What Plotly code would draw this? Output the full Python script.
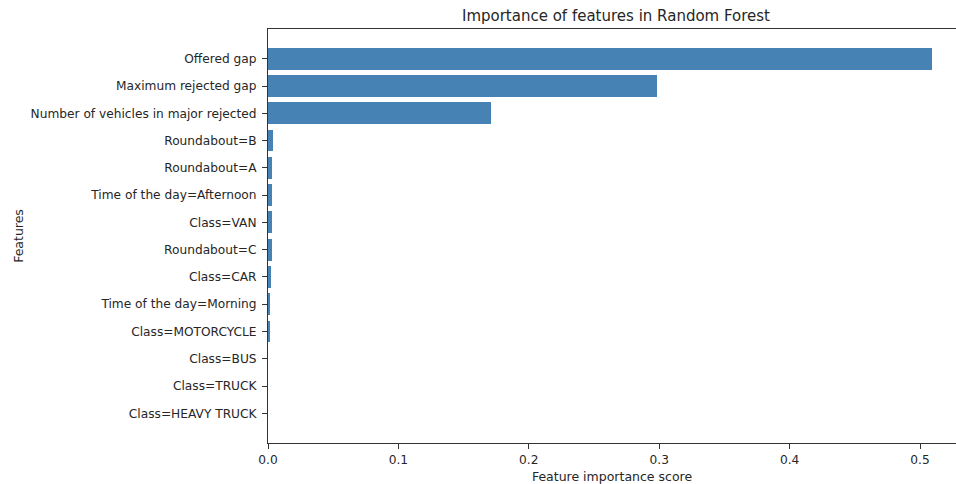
import plotly.graph_objects as go

# Feature names, listed top to bottom
features = [
    "Offered gap",
    "Maximum rejected gap",
    "Number of vehicles in major rejected",
    "Roundabout=B",
    "Roundabout=A",
    "Time of the day=Afternoon",
    "Class=VAN",
    "Roundabout=C",
    "Class=CAR",
    "Time of the day=Morning",
    "Class=MOTORCYCLE",
    "Class=BUS",
    "Class=TRUCK",
    "Class=HEAVY TRUCK",
]
importance = [0.509, 0.298, 0.171, 0.0042, 0.0030, 0.0029, 0.0028, 0.0027,
              0.0020, 0.0019, 0.0011, 0.0, 0.0, 0.0]

x_ticks = [0.0, 0.1, 0.2, 0.3, 0.4, 0.5]
x_tick_text = ["0.0", "0.1", "0.2", "0.3", "0.4", "0.5"]

FONT = "DejaVu Sans, Liberation Sans, sans-serif"
TXT = "#262626"

fig = go.Figure(
    go.Bar(
        x=importance,
        y=features,
        orientation="h",
        width=0.8,
        marker=dict(color="#4682B4", line=dict(width=0)),
    )
)

n = len(features)
fig.update_layout(
    width=956,
    height=484,
    margin=dict(l=268, r=0, t=29, b=41),
    paper_bgcolor="white",
    plot_bgcolor="white",
    showlegend=False,
    font=dict(family=FONT, size=12.2, color=TXT),
    title=dict(
        text="Importance of features in Random Forest",
        x=616 / 956,
        xanchor="center",
        y=1 - 16 / 484,
        yanchor="middle",
        font=dict(family=FONT, size=15, color=TXT),
    ),
    bargap=0,
)

fig.update_xaxes(
    range=[0, (956 - 268) / 1304],
    tickvals=x_ticks,
    ticktext=x_tick_text,
    ticks="outside",
    ticklen=5,
    tickwidth=1,
    tickcolor="#333333",
    showline=True,
    linecolor="#333333",
    linewidth=1,
    mirror=True,
    showgrid=False,
    zeroline=False,
    tickfont=dict(size=12.2, color=TXT),
    title=dict(text="Feature importance score", standoff=6,
               font=dict(size=12.5, color=TXT)),
)

fig.update_yaxes(
    type="category",
    categoryorder="array",
    categoryarray=features,
    range=[n - 1 + 1.09, -1.09],
    ticks="outside",
    ticklen=5,
    tickwidth=1,
    tickcolor="#333333",
    showline=True,
    linecolor="#333333",
    linewidth=1,
    showgrid=False,
    zeroline=False,
    tickfont=dict(size=12.2, color=TXT),
    ticklabelstandoff=3,
    title=dict(text="Features", standoff=4, font=dict(size=12.5, color=TXT)),
)

fig.write_html("out.html")
